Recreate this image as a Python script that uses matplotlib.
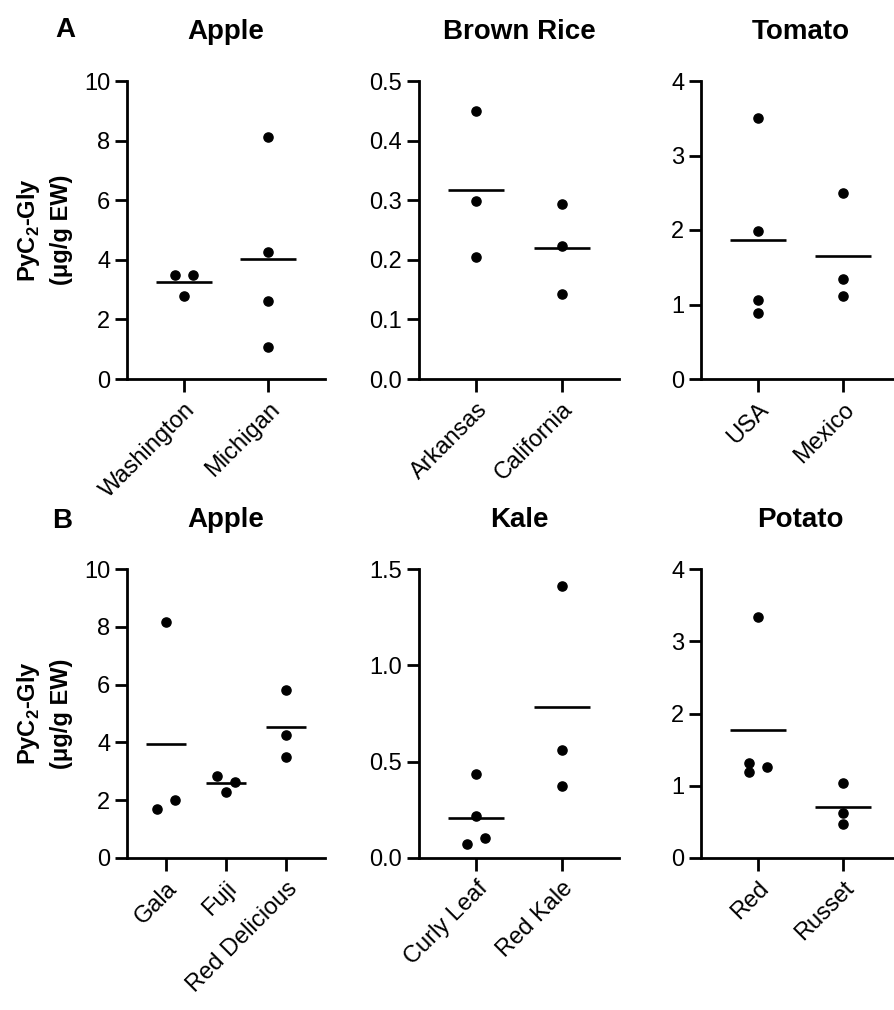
import numpy as np
import matplotlib
matplotlib.use("Agg")
import matplotlib.pyplot as plt
from matplotlib.transforms import ScaledTranslation

plt.rcParams['font.family'] = ['Liberation Sans', 'DejaVu Sans']
plt.rcParams['mathtext.fontset'] = 'custom'
plt.rcParams['mathtext.rm'] = 'Liberation Sans'
plt.rcParams['mathtext.bf'] = 'Liberation Sans:bold'

# ---------------- data ----------------
# Panel A
apple_a_cats = ["Washington", "Michigan"]
apple_a_vals = [[3.49, 3.49, 2.79], [8.13, 4.27, 2.63, 1.06]]
rice_cats = ["Arkansas", "California"]
rice_vals = [[0.449, 0.299, 0.2045], [0.294, 0.2235, 0.143]]
tomato_cats = ["USA", "Mexico"]
tomato_vals = [[3.51, 1.99, 1.064, 0.889], [2.49, 1.345, 1.12]]
# Panel B
apple_b_cats = ["Gala", "Fuji", "Red Delicious"]
apple_b_vals = [[8.15, 1.71, 2.01], [2.83, 2.64, 2.29], [5.81, 4.27, 3.48]]
kale_cats = ["Curly Leaf", "Red Kale"]
kale_vals = [[0.435, 0.22, 0.071, 0.102], [1.413, 0.558, 0.376]]
potato_cats = ["Red", "Russet"]
potato_vals = [[3.34, 1.316, 1.187, 1.266], [1.039, 0.619, 0.476]]

titles_a = ["Apple", "Brown Rice", "Tomato"]
titles_b = ["Apple", "Kale", "Potato"]
yticks_a = [[0, 2, 4, 6, 8, 10], [0.0, 0.1, 0.2, 0.3, 0.4, 0.5], [0, 1, 2, 3, 4]]
yticks_b = [[0, 2, 4, 6, 8, 10], [0.0, 0.5, 1.0, 1.5], [0, 1, 2, 3, 4]]
ytick_fmt_a = ["{:.0f}", "{:.1f}", "{:.0f}"]
ytick_fmt_b = ["{:.0f}", "{:.1f}", "{:.0f}"]

# horizontal dodge (in units of one marker width) for overlapping points
dodge_a = [[[-1, 1, 0], [0, 0, 0, 0]], [[0, 0, 0], [0, 0, 0]], [[0, 0, 0, 0], [0, 0, 0]]]
dodge_b = [[[0, -1, 1], [-1, 1, 0], [0, 0, 0]], [[0, 0, -1, 1], [0, 0, 0]], [[0, -1, -1, 1], [0, 0, 0]]]

ylabel = "PyC$_\\mathbf{2}$-Gly\n(\u03bcg/g EW)"

# ---------------- layout ----------------
W, H = 894, 1010
fig = plt.figure(figsize=(W / 100, H / 100), dpi=100)

def px_axes(left, top, right, bottom):
    return fig.add_axes([left / W, 1 - bottom / H, (right - left) / W, (bottom - top) / H])

LW = 2.0
MS = 6.6
DOT_PT = 6.6
TICK_FS = 17
TITLE_FS = 20

def draw(ax, cats, vals, dodges, title, yticks, fmt, xpad):
    n = len(cats)
    for i, (grp, dg) in enumerate(zip(vals, dodges)):
        for v, d in zip(grp, dg):
            tr = ax.transData + ScaledTranslation(d * DOT_PT / 72, 0, fig.dpi_scale_trans)
            ax.plot([i], [v], 'o', color='black', ms=MS, mec='black', transform=tr,
                    clip_on=False, zorder=3)
        ax.hlines(np.mean(grp), i - 0.33, i + 0.33, color='black', lw=1.9, zorder=2)
    ax.set_xlim(-xpad, n - 1 + xpad)
    ax.set_ylim(yticks[0], yticks[-1])
    ax.set_yticks(yticks)
    ax.set_yticklabels([fmt.format(t) for t in yticks])
    ax.set_xticks(range(n))
    ax.set_xticklabels(cats, rotation=45, ha='right', rotation_mode='anchor')
    for s in ['top', 'right']:
        ax.spines[s].set_visible(False)
    for s in ['left', 'bottom']:
        ax.spines[s].set_linewidth(LW)
    ax.tick_params(axis='both', length=9, width=LW, labelsize=TICK_FS, pad=3, color='black')
    ax.tick_params(axis='x', pad=5)
    ax.set_title(title, fontsize=TITLE_FS, fontweight='bold', pad=30)

cols = [(127, 325), (419, 619), (701, 900)]
rowA = (81, 379)
rowB = (569, 858)

axesA = []
for j in range(3):
    ax = px_axes(cols[j][0], rowA[0], cols[j][1], rowA[1])
    cats = [apple_a_cats, rice_cats, tomato_cats][j]
    vals = [apple_a_vals, rice_vals, tomato_vals][j]
    draw(ax, cats, vals, dodge_a[j], titles_a[j], yticks_a[j], ytick_fmt_a[j], 0.67)
    axesA.append(ax)

axesB = []
for j in range(3):
    ax = px_axes(cols[j][0], rowB[0], cols[j][1], rowB[1])
    cats = [apple_b_cats, kale_cats, potato_cats][j]
    vals = [apple_b_vals, kale_vals, potato_vals][j]
    xpad = 0.65 if len(cats) == 3 else 0.67
    draw(ax, cats, vals, dodge_b[j], titles_b[j], yticks_b[j], ytick_fmt_b[j], xpad)
    axesB.append(ax)

for ax in (axesA[0], axesB[0]):
    ax.set_ylabel(ylabel, fontsize=17, fontweight='bold', labelpad=8, linespacing=1.45)

fig.text(65 / W, 1 - 30 / H, "A", fontsize=TITLE_FS, fontweight='bold', ha='center', va='center')
fig.text(62 / W, 1 - 521 / H, "B", fontsize=TITLE_FS, fontweight='bold', ha='center', va='center')

fig.savefig("out.png", dpi=100)
